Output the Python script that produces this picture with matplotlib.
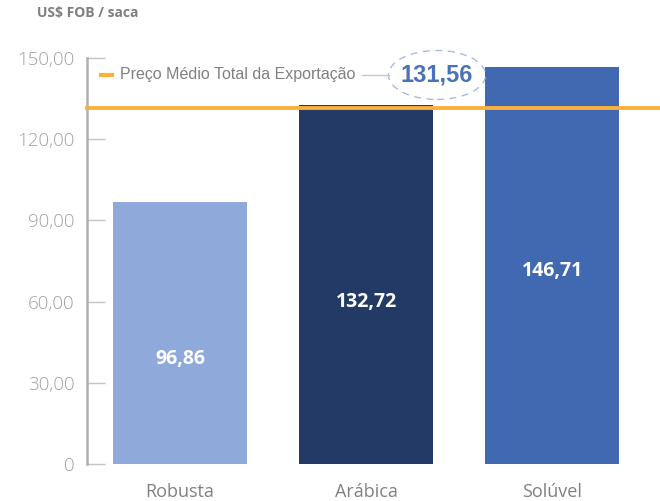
#importing dependencies
import matplotlib.pyplot as plt
from matplotlib.patches import Ellipse

#Data
categories = ["Robusta", "Arábica", "Solúvel"]
values = [96.86, 132.72, 146.71]
value_labels = ["96,86", "132,72", "146,71"]
label_frac = [0.40, 0.45, 0.486]
average = 131.56
average_label = "131,56"
yticks = [0, 30, 60, 90, 120, 150]
ytick_labels = ["0", "30,00", "60,00", "90,00", "120,00", "150,00"]

colors = ["#8FAADA", "#233A67", "#4169B1"]
orange = "#FBB03B"
gray = "#A0A0A0"

fig = plt.figure(figsize=(6.6, 5.01), dpi=100)
ax = fig.add_axes([87/660, 37/501, 1 - 87/660, 406/501])

x = list(range(len(categories)))
ax.bar(x, values, width=0.72, color=colors, zorder=2)
for xi, v, lab, f in zip(x, values, value_labels, label_frac):
    ax.text(xi, v*f, lab, ha="center", va="center", color="white",
            fontsize=14, fontweight="bold", family="Open Sans", zorder=3)

#average line
ax.axhline(average, color=orange, lw=2.8, zorder=4, clip_on=False)

ax.set_xlim(-0.5, 2.58)
ax.set_ylim(0, 150)
ax.set_yticks(yticks)
ax.set_yticklabels(ytick_labels, family="Open Sans", fontsize=13.5, color=gray, fontweight=300)
ax.set_xticks(x)
ax.set_xticklabels(categories, family="Open Sans", fontsize=13, color="#808080")
ax.tick_params(axis="y", direction="in", length=13, width=1, color="#C4C4C4", pad=9)
ax.tick_params(axis="x", length=0, pad=14)
for s in ["top", "right", "bottom"]:
    ax.spines[s].set_visible(False)
ax.spines["left"].set_color("#B0B0B0")
ax.spines["left"].set_linewidth(1.8)

#legend-like annotation
fig.text(37/660, 1 - 13/501, "US$ FOB / saca", fontsize=10, fontweight="bold",
         color="#7F7F7F", family="Open Sans", va="center")
fig.lines.append(plt.Line2D([101/660, 112/660], [1 - 75/501, 1 - 75/501],
                            color=orange, lw=3, transform=fig.transFigure))
fig.text(120/660, 1 - 75/501, "Preço Médio Total da Exportação", fontsize=11.5,
         color="#808080", family="Liberation Sans", va="center")
fig.lines.append(plt.Line2D([362/660, 389/660], [1 - 75/501, 1 - 75/501],
                            color="#C8C8C8", lw=1, transform=fig.transFigure))
fig.patches.append(Ellipse((437/660, 1 - 75/501), 97/660, 49/501, fill=False,
                           ec="#A9BBE0", ls=(0, (5, 4)), lw=1, transform=fig.transFigure))
fig.text(437/660, 1 - 75/501, average_label, fontsize=17, fontweight="bold",
         color="#4A72B8", family="Liberation Sans", ha="center", va="center")

plt.savefig("out.png", dpi=100)
